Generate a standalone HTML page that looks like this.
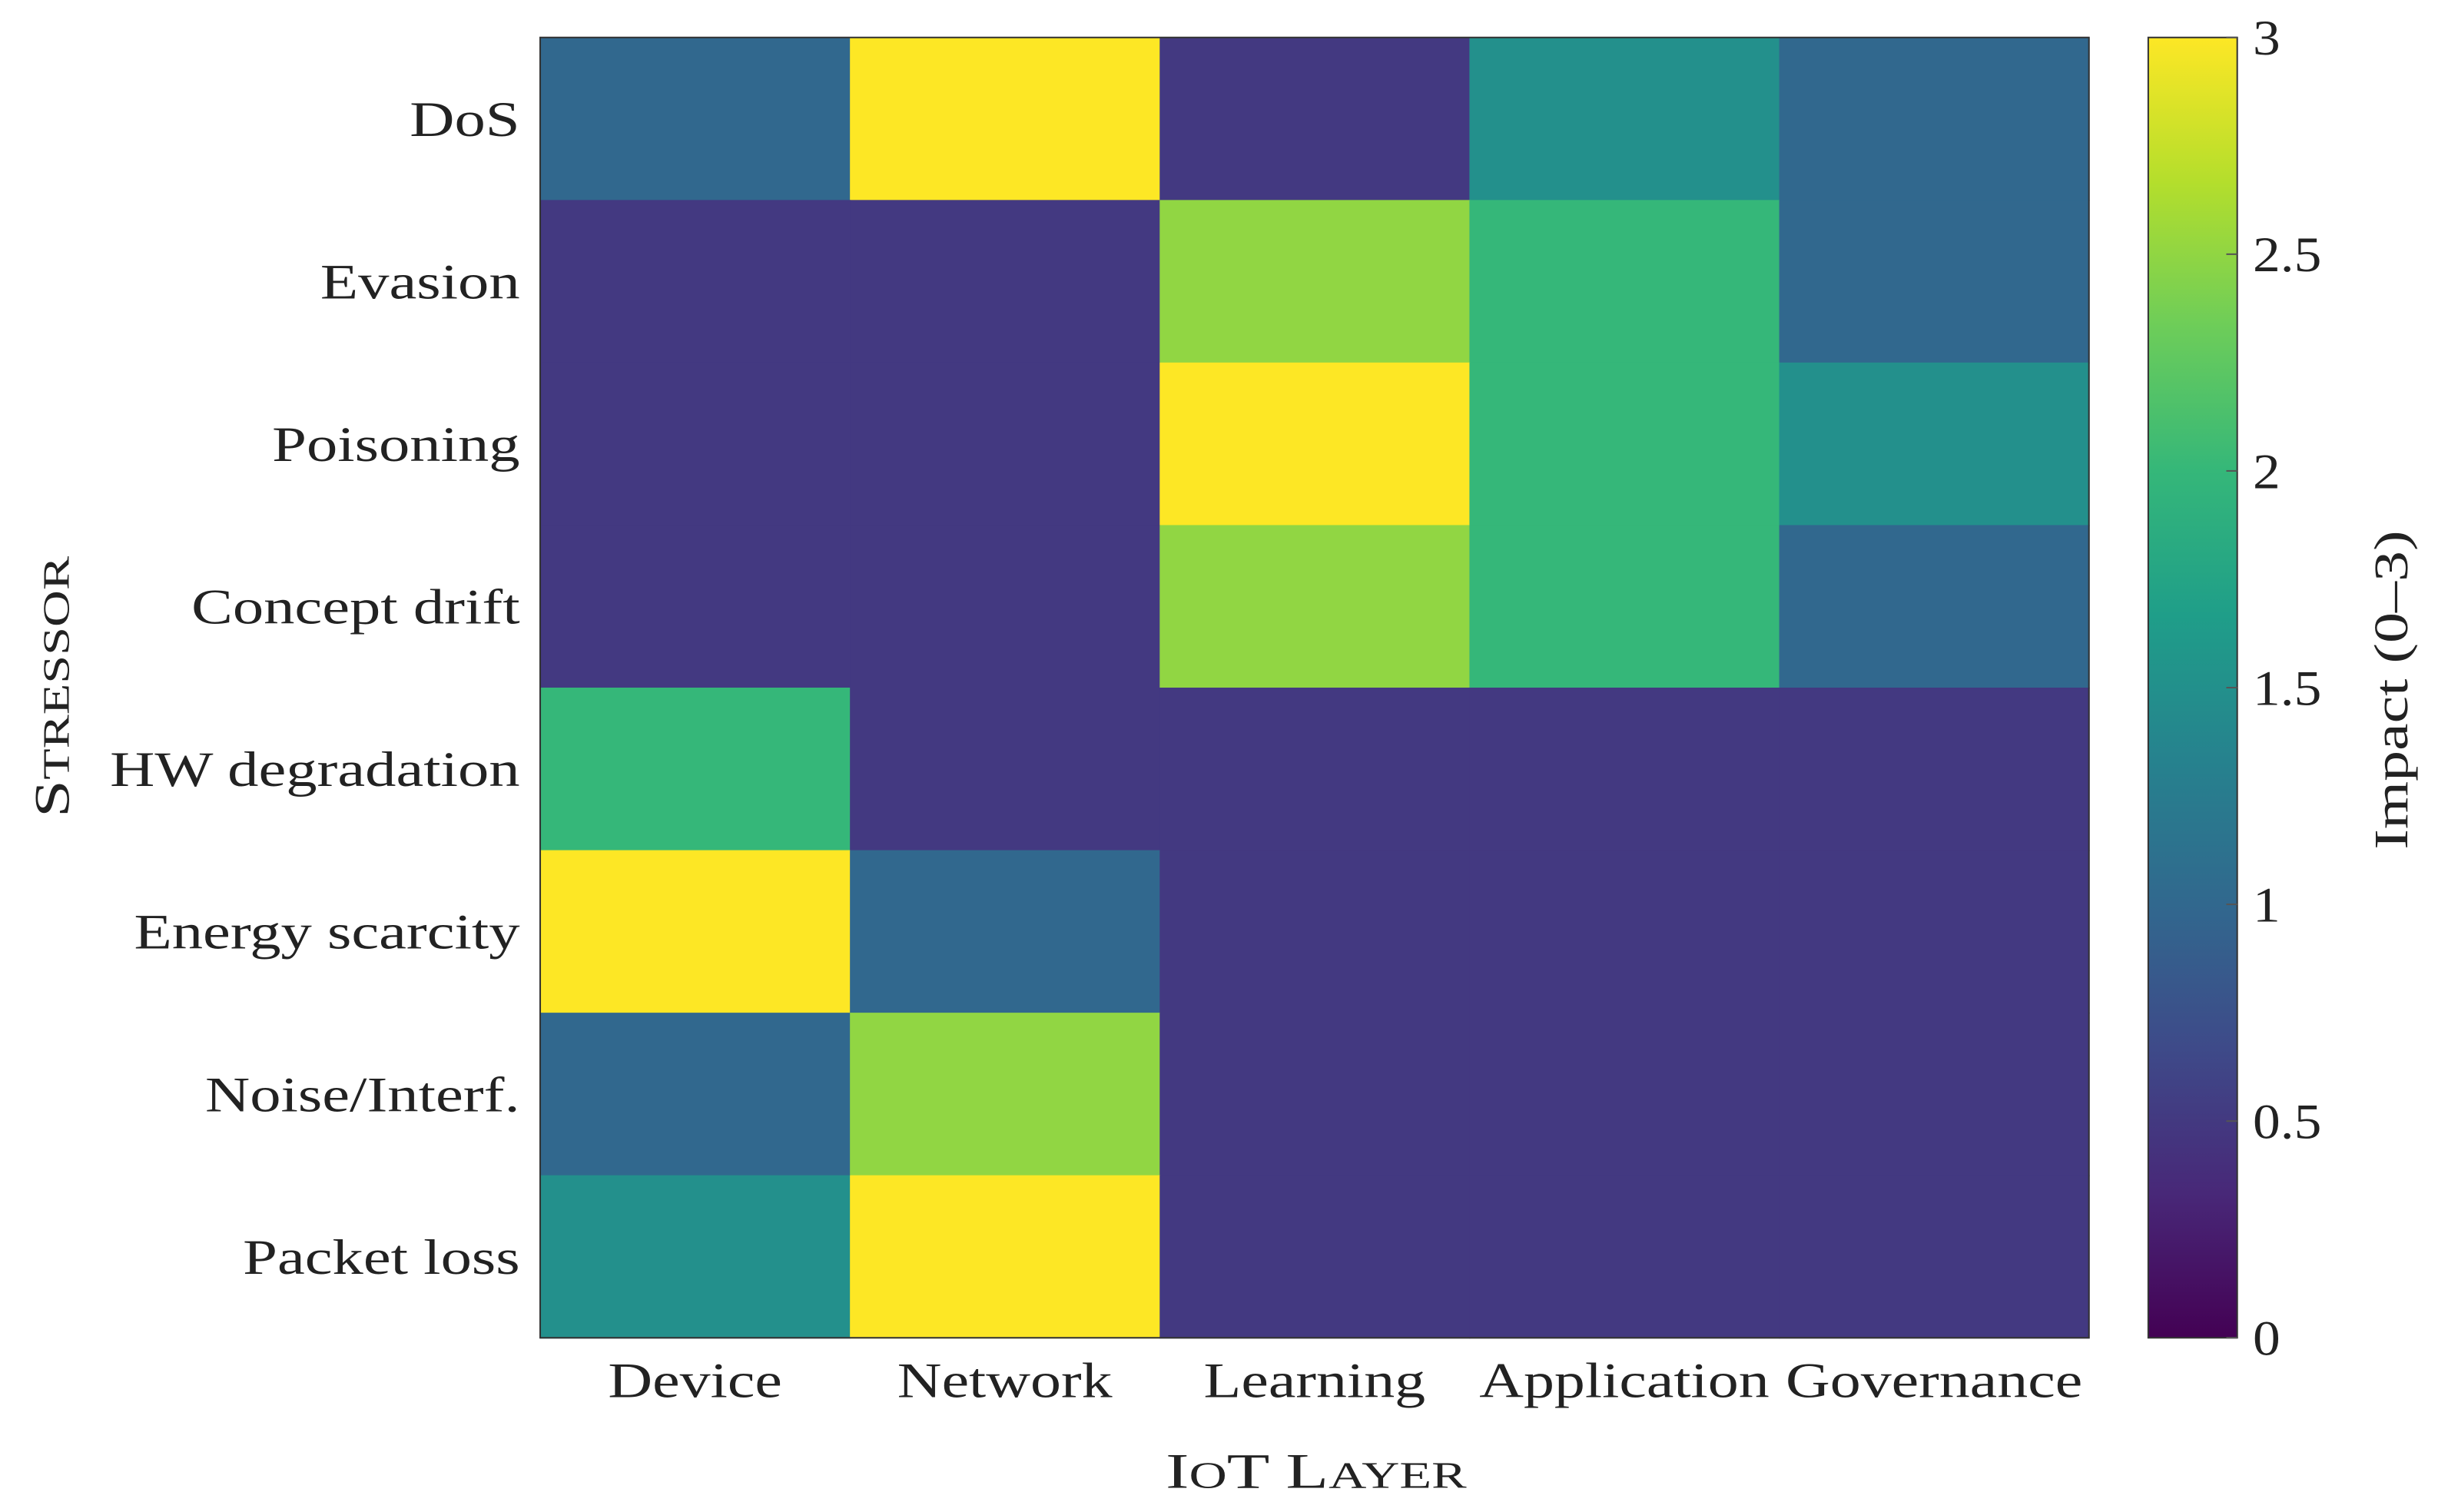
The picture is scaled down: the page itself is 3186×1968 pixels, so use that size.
<!DOCTYPE html>
<html><head><meta charset="utf-8"><style>
html,body{margin:0;padding:0;background:#fff;}
svg{display:block;}
text{font-family:"Liberation Serif","DejaVu Serif",serif;fill:#222;}
</style></head><body>
<svg id="chart" width="3186" height="1968" viewBox="0 0 1568 968.6" preserveAspectRatio="none" xmlns="http://www.w3.org/2000/svg">
<defs><linearGradient id="vir" x1="0" y1="1" x2="0" y2="0"></linearGradient></defs>
<g id="cells"></g>
<g id="ylabels"></g>
<g id="xlabels"></g>
<rect x="346" y="24" width="992" height="833" fill="none" stroke="#333" stroke-width="1"/>
<rect x="1376" y="24" width="57" height="833" fill="url(#vir)" stroke="#333" stroke-width="1"/>
<g id="cticks"></g>
<text transform="translate(44,440) rotate(-90) scale(1.36,1)" text-anchor="middle" font-size="32">S<tspan font-size="24">TRESSOR</tspan></text>
<text transform="translate(843,953) scale(1.4,1)" text-anchor="middle" font-size="32">I<tspan font-size="24">O</tspan>T L<tspan font-size="24">AYER</tspan></text>
<text transform="translate(1542,442) rotate(-90) scale(1.27,1)" text-anchor="middle" font-size="31">Impact (0–3)</text>
</svg>
<script>
const layers=["Device","Network","Learning","Application","Governance"];
const stressors=["DoS","Evasion","Poisoning","Concept drift","HW degradation","Energy scarcity","Noise/Interf.","Packet loss"];
const rowDoS=[1,3,0.5,1.5,1];
const rowEvasion=[0.5,0.5,2.5,2,1];
const rowPoisoning=[0.5,0.5,3,2,1.5];
const rowDrift=[0.5,0.5,2.5,2,1];
const rowHW=[2,0.5,0.5,0.5,0.5];
const rowEnergy=[3,1,0.5,0.5,0.5];
const rowNoise=[1,2.5,0.5,0.5,0.5];
const rowPacket=[1.5,3,0.5,0.5,0.5];
const values=[rowDoS,rowEvasion,rowPoisoning,rowDrift,rowHW,rowEnergy,rowNoise,rowPacket];
const cbTicks=[0,0.5,1,1.5,2,2.5,3];
const cbTickLabels=["0","0.5","1","1.5","2","2.5","3"];
const vmin=0,vmax=3;
const NS="http://www.w3.org/2000/svg";
const X0=346,X1=1338,Y0=24,Y1=857;
const xs=i=>X0+i*(X1-X0)/layers.length;
const ys=j=>Y0+j*(Y1-Y0)/stressors.length;
const cy=v=>Y1-(v-vmin)/(vmax-vmin)*(Y1-Y0);
const stops=[[68,1,84],[72,40,120],[62,74,137],[49,104,142],[38,130,142],[31,158,137],[53,183,121],[109,205,89],[180,222,44],[253,231,37]];
function viridis(t){t=Math.max(0,Math.min(1,t));const p=t*(stops.length-1);const i=Math.min(Math.floor(p),stops.length-2);const f=p-i;const a=stops[i],b=stops[i+1];return `rgb(${a.map((c,k)=>Math.round(c+(b[k]-c)*f)).join(",")})`;}
const grad=document.getElementById('vir');
stops.forEach((s,i)=>{const st=document.createElementNS(NS,'stop');st.setAttribute('offset',i/(stops.length-1));st.setAttribute('stop-color',`rgb(${s.join(",")})`);grad.appendChild(st);});
const cells=document.getElementById('cells');
values.forEach((row,j)=>row.forEach((v,i)=>{
 const r=document.createElementNS(NS,'rect');
 r.setAttribute('x',xs(i));r.setAttribute('y',ys(j));
 r.setAttribute('width',xs(i+1)-xs(i)+0.5);r.setAttribute('height',ys(j+1)-ys(j)+0.5);
 r.setAttribute('fill',viridis((v-vmin)/(vmax-vmin)));
 
 
 cells.appendChild(r);
}));
const yl=document.getElementById('ylabels');
stressors.forEach((s,j)=>{const t=document.createElementNS(NS,'text');
 t.setAttribute('transform',`translate(333,${(ys(j)+ys(j+1))/2+11}) scale(1.24,1)`);
 t.setAttribute('text-anchor','end');t.setAttribute('font-size','32');t.textContent=s;
 
 
 yl.appendChild(t);});
const xl=document.getElementById('xlabels');
layers.forEach((s,i)=>{const t=document.createElementNS(NS,'text');
 t.setAttribute('transform',`translate(${(xs(i)+xs(i+1))/2},895) scale(1.23,1)`);
 t.setAttribute('text-anchor','middle');t.setAttribute('font-size','32');t.textContent=s;
 
 
 xl.appendChild(t);});
const ct=document.getElementById('cticks');
cbTicks.forEach((v,k)=>{const y=cy(v);
 const l=document.createElementNS(NS,'line');l.setAttribute('x1',1426);l.setAttribute('x2',1433);l.setAttribute('y1',y);l.setAttribute('y2',y);l.setAttribute('stroke','#555');l.setAttribute('stroke-width','1');
 
 
 ct.appendChild(l);
 const t=document.createElementNS(NS,'text');
 t.setAttribute('transform',`translate(1443,${y+11}) scale(1.1,1)`);
 t.setAttribute('font-size','32');t.textContent=cbTickLabels[k];
 
 
 ct.appendChild(t);});
</script>
</body></html>
